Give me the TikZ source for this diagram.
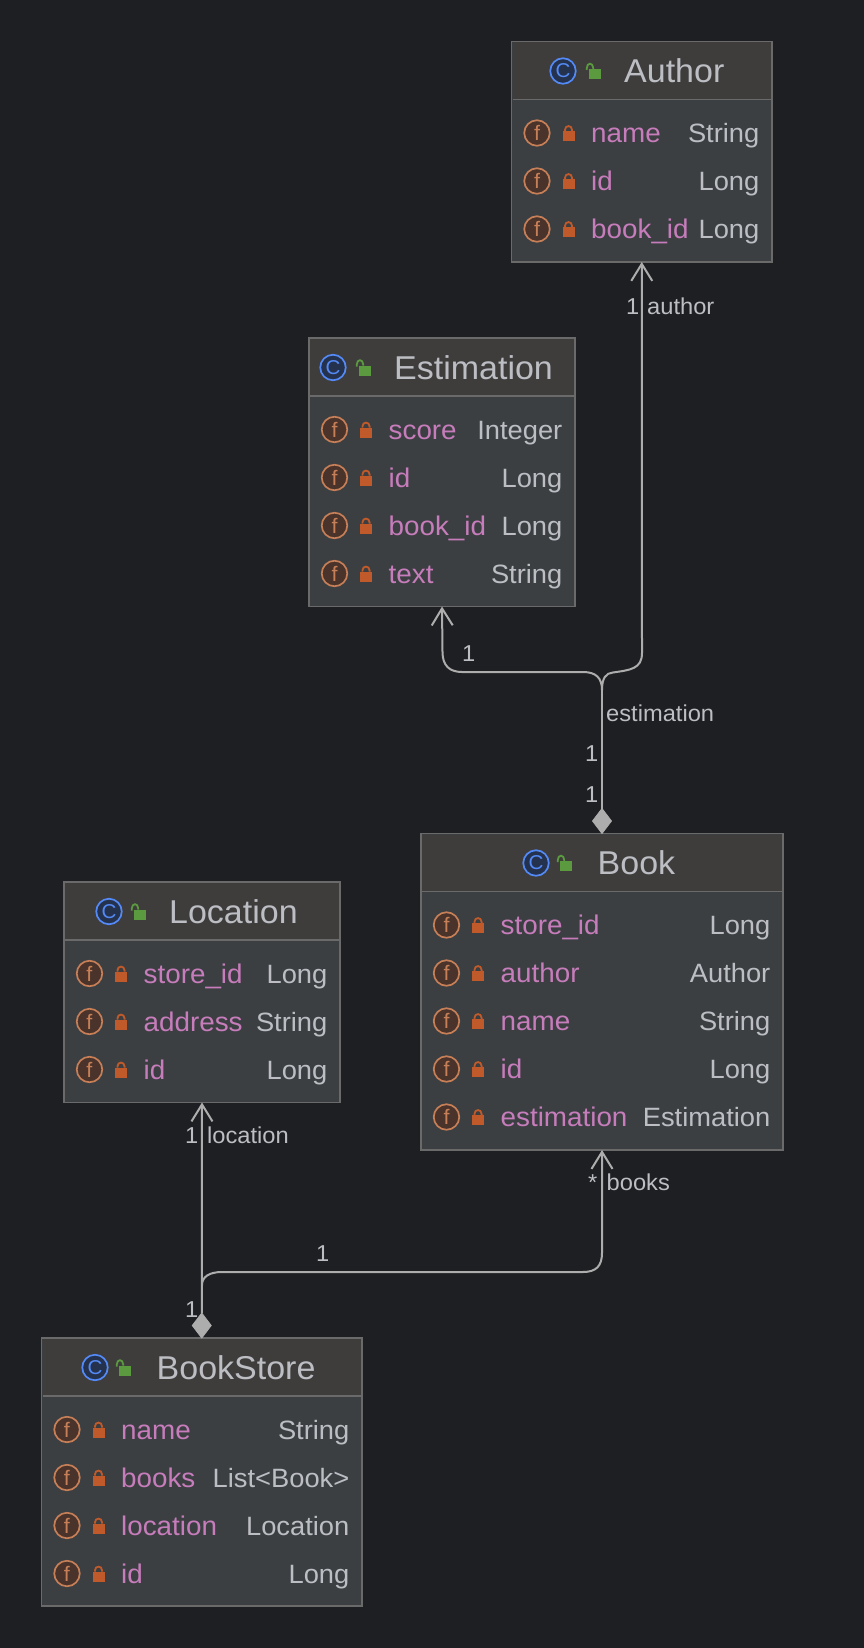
\documentclass[tikz,border=0pt]{standalone}
\usepackage{fontspec}
\setmainfont[FakeStretch=1.03]{Liberation Sans}
\usetikzlibrary{arrows.meta,shapes.geometric}

\definecolor{canvasbg}{HTML}{1E1F22}
\definecolor{bodybg}{HTML}{3B3F42}
\definecolor{headbg}{HTML}{3E3D3C}
\definecolor{borderline}{HTML}{6A6A6A}
\definecolor{edgeline}{HTML}{ADADAD}
\definecolor{plaintext}{HTML}{BCBEC4}
\definecolor{fieldtext}{HTML}{C77DBB}
\definecolor{lockred}{HTML}{C05A2A}
\definecolor{lockgreen}{HTML}{5B9A3F}
\definecolor{classring}{HTML}{548AF7}
\definecolor{classfill}{HTML}{25324D}
\definecolor{fieldring}{HTML}{C77F58}
\definecolor{fieldfill}{HTML}{4A332A}

\tikzstyle{classbox} = [draw=borderline, fill=bodybg, line width=1.1pt, rectangle, anchor=north west, outer sep=0pt, inner sep=0pt]
\tikzstyle{headbox} = [fill=headbg, rectangle, anchor=north, outer sep=0pt, inner sep=0pt, minimum height=57pt]
\tikzstyle{separator} = [draw=borderline, line width=1.3pt]
\tikzstyle{titletext} = [anchor=base west, inner sep=0pt, text=plaintext, font=\fontsize{33}{33}\selectfont]
\tikzstyle{fieldname} = [anchor=base west, inner sep=0pt, text=fieldtext, font=\fontsize{27}{27}\selectfont]
\tikzstyle{typename} = [anchor=base east, inner sep=0pt, text=plaintext, font=\fontsize{26.5}{26.5}\selectfont]
\tikzstyle{classicon} = [circle, draw=classring, fill=classfill, line width=1.7pt, minimum size=25.5pt, inner sep=0pt, text=classring, font=\fontsize{20}{20}\selectfont]
\tikzstyle{fieldicon} = [circle, draw=fieldring, fill=fieldfill, line width=1.7pt, minimum size=25.5pt, inner sep=0pt, text=fieldring, font=\fontsize{21}{21}\selectfont]
\tikzstyle{tagtext} = [anchor=base west, inner sep=0pt, text=plaintext, font=\fontsize{23}{23}\selectfont]
\tikzstyle{real edge} = [draw=edgeline, line width=2pt]
\tikzstyle{arrow edge} = [real edge, -{Straight Barb[length=17pt,width=21pt,line width=2pt]}]
\tikzstyle{owner} = [diamond, fill=edgeline, draw=edgeline, line width=0.8pt, line join=round, minimum width=19pt, minimum height=25pt, inner sep=0pt, outer sep=0pt]

\tikzset{
  closedlock/.pic={
    \fill[lockred] (-6,-2) rectangle (6,8);
    \draw[lockred, line width=1.8pt] (-3.6,-2) -- (-3.6,-3) .. controls (-3.6,-8.2) and (3.6,-8.2) .. (3.6,-3) -- (3.6,-2);
  },
  openlock/.pic={
    \fill[lockgreen] (-6,-2) rectangle (6,8);
    \draw[lockgreen, line width=1.8pt] (-8.2,-1) -- (-8.2,-3) .. controls (-8.2,-8.7) and (-1.8,-8.7) .. (-1.8,-3) -- (-1.8,-2);
  }
}

\begin{document}
\begin{tikzpicture}[x=1pt,y=-1pt]
  \fill[canvasbg] (0,0) rectangle (864,1648);
  \useasboundingbox (0,0) rectangle (864,1648);

  % classes
  \foreach \pos/\name/\boxw/\boxh/\caption/\iconx/\lockx/\titlex in {
      {(511.5,41.5)/author/260.5/220.5/Author/563/595/624},
      {(309,338)/estimation/266/268.5/Estimation/333/365/394},
      {(421,833.5)/book/362/316.5/Book/536/566/597.5},
      {(64,882)/location/276/220.5/Location/109/140/169},
      {(41.5,1338)/bookstore/320.5/268/BookStore/95/125/156.5}} {
    \node[classbox, minimum width=\boxw pt, minimum height=\boxh pt] (\name) at \pos {};
    \node[headbox, minimum width=\boxw pt - 2pt] (\name head) at ([yshift=-1pt]\name.north) {};
    \path[separator] (\name head.south west) -- (\name head.south east);
    \node[classicon] (\name icon) at (\iconx,0 |- \name head) {C};
    \pic at (\lockx,0 |- \name head) {openlock};
    \node[titletext] (\name title) at ([yshift=-11.5pt]\titlex,0 |- \name head) {\caption};
  }

  % fields
  \foreach \cls/\row/\field/\type in {
      author/0/name/String, author/1/id/Long, author/2/book\_id/Long,
      estimation/0/score/Integer, estimation/1/id/Long, estimation/2/book\_id/Long, estimation/3/text/String,
      book/0/store\_id/Long, book/1/author/Author, book/2/name/String, book/3/id/Long, book/4/estimation/Estimation,
      location/0/store\_id/Long, location/1/address/String, location/2/id/Long,
      bookstore/0/name/String, bookstore/1/books/List<Book>, bookstore/2/location/Location, bookstore/3/id/Long} {
    \pgfmathsetmacro\rowy{91.5+48*\row}
    \pgfmathsetmacro\basey{101+48*\row}
    \node[fieldicon] (\cls\row icon) at ([shift={(25.5,\rowy)}]\cls.north west) {f};
    \pic at ([shift={(57,\rowy)}]\cls.north west) {closedlock};
    \node[fieldname] (\cls\row name) at ([shift={(79.5,\basey)}]\cls.north west) {\field};
    \node[typename] (\cls\row type) at ([shift={(-12.5,\basey)}]\cls.north east) {\type};
  }

  % connectors
  \node[owner, anchor=south] (bookowner) at (book.north) {};
  \node[owner, anchor=south] (storeowner) at (bookstore.north) {};
  \coordinate (bookfork) at (602,690);
  \coordinate (storefork) at (202,1285);
  \path[real edge] (bookowner.north) -- (bookfork);
  \path[arrow edge] (bookfork) .. controls (602,678) and (596,672) .. (583,672) -- (462,672) .. controls (449,672) and (442.5,665) .. (442.5,652) -- (estimation.south);
  \path[arrow edge] (bookfork) .. controls (602,678) and (606,673) .. (613,672.5) .. controls (630,670) and (642,669) .. (642,653) -- (author.south);
  \path[arrow edge] (storeowner.north) -- (location.south);
  \path[arrow edge] (storefork) .. controls (202,1277) and (209,1272) .. (222,1272) -- (583,1272) .. controls (596,1272) and (602,1266) .. (602,1253) -- (book.south);

  % labels
  \foreach \pos/\tagname/\tagbody in {
      {(626,314)/tagauthorone/1}, {(647,314)/tagauthor/author},
      {(462,661.5)/tagestone/1}, {(606,721.5)/tagestimation/estimation},
      {(585,761.5)/tagbookone/1}, {(585,802.5)/tagbooktwo/1},
      {(185,1143)/taglocone/1}, {(207,1143)/taglocation/location},
      {(588,1190)/tagstar/*}, {(606.5,1190)/tagbooks/books},
      {(316,1261.5)/tagstoreone/1}, {(185,1317)/tagstoretwo/1}} {
    \node[tagtext] (\tagname) at \pos {\tagbody};
  }
\end{tikzpicture}
\end{document}
